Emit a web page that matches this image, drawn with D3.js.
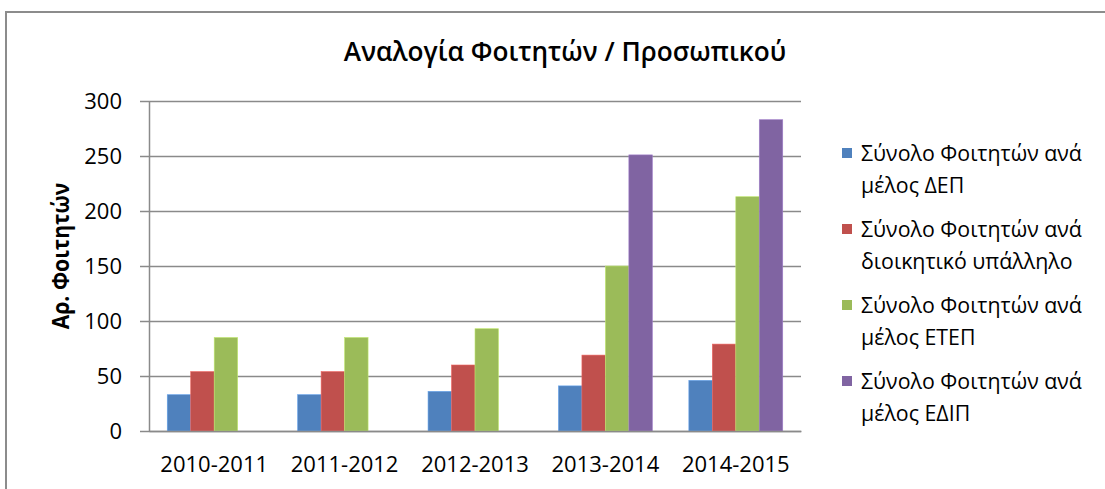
<!DOCTYPE html>
<html>
<head>
<meta charset="utf-8">
<script src="https://cdnjs.cloudflare.com/ajax/libs/d3/7.8.5/d3.min.js"></script>
<style>
  body { margin: 0; background: #fff; }
  text { font-family: "Open Sans", "Noto Sans", sans-serif; fill: #000; }
</style>
</head>
<body>
<div id="chart"></div>
<script>
const width = 1105
const height = 489
const margin = {top: 101, bottom: 58, left: 149, right: 304}

// datos
const years = ["2010-2011", "2011-2012", "2012-2013", "2013-2014", "2014-2015"]
const seriesNames = [
    ["Σύνολο Φοιτητών ανά", "μέλος ΔΕΠ"],
    ["Σύνολο Φοιτητών ανά", "διοικητικό υπάλληλο"],
    ["Σύνολο Φοιτητών ανά", "μέλος ΕΤΕΠ"],
    ["Σύνολο Φοιτητών ανά", "μέλος ΕΔΙΠ"]
]
const dep = [33, 33, 36, 41, 46]
const dioikitikoi = [54, 54, 60, 69, 79]
const etep = [85, 85, 93, 150, 213]
const edip = [null, null, null, 251, 283]
const yTicks = [0, 50, 100, 150, 200, 250, 300]
const colors = ["#4F81BD", "#C0504D", "#9BBB59", "#8064A2"]

const allSeries = [dep, dioikitikoi, etep, edip]

const svg = d3.select("#chart").append("svg").attr("width", width).attr("height", height)

// estrecha el texto horizontalmente (la fuente original es mas condensada)
function squeeze(sel, factor) {
    sel.each(function() {
        const w = this.getComputedTextLength()
        d3.select(this).attr("textLength", w * factor).attr("lengthAdjust", "spacingAndGlyphs")
    })
}

// marco del grafico
svg.append("rect")
    .attr("x", 6).attr("y", 12)
    .attr("width", width).attr("height", height)
    .attr("fill", "none").attr("stroke", "#8c8c8c").attr("stroke-width", 2)

const plotW = width - margin.left - margin.right
const plotH = height - margin.top - margin.bottom

const x = d3.scaleBand().domain(years).range([0, plotW]).paddingInner(0.28).paddingOuter(0.14)
const x1 = d3.scaleBand().domain(d3.range(allSeries.length)).range([0, x.bandwidth()])
const y = d3.scaleLinear().domain([0, 300]).range([plotH, 0])

const elementGroup = svg.append("g").attr("transform", `translate(${margin.left}, ${margin.top})`)

// lineas de cuadricula
elementGroup.append("g")
    .call(d3.axisLeft(y).tickValues(yTicks).tickSize(-plotW).tickFormat(""))
    .call(g => g.select(".domain").remove())
    .call(g => g.selectAll("line").attr("stroke", "#8a8a8a").attr("stroke-width", 1.5))

// barras
const rows = years.map((yr, i) => allSeries.map((s, j) => ({year: yr, serie: j, value: s[i]})))
elementGroup.selectAll("g.year")
    .data(rows)
    .join("g")
    .attr("class", "year")
    .attr("transform", d => `translate(${x(d[0].year)}, 0)`)
    .selectAll("rect")
    .data(d => d.filter(e => e.value !== null))
    .join("rect")
    .attr("x", d => x1(d.serie))
    .attr("y", d => y(d.value))
    .attr("width", x1.bandwidth())
    .attr("height", d => plotH - y(d.value))
    .attr("fill", d => colors[d.serie])
    .attr("stroke", d => d3.color(colors[d.serie]).brighter(0.6))
    .attr("stroke-width", 0.6)

// eje y
const yAxisGroup = elementGroup.append("g")
    .call(d3.axisLeft(y).tickValues(yTicks).tickSizeInner(9).tickSizeOuter(0).tickPadding(18))
yAxisGroup.select(".domain").attr("stroke", "#8a8a8a").attr("stroke-width", 1.5)
yAxisGroup.selectAll("line").attr("stroke", "#8a8a8a").attr("stroke-width", 1.5)
yAxisGroup.selectAll("text").style("font-family", "Open Sans").attr("font-size", 22).attr("fill", "#000")

// eje x
const xAxisGroup = elementGroup.append("g").attr("transform", `translate(0, ${plotH})`)
    .call(d3.axisBottom(x).tickSize(0).tickPadding(25))
xAxisGroup.select(".domain").attr("stroke", "#8a8a8a").attr("stroke-width", 1.5)
xAxisGroup.selectAll("text").style("font-family", "Open Sans").attr("font-size", 22).attr("fill", "#000")

// titulo
svg.append("text")
    .attr("x", 565).attr("y", 52)
    .attr("text-anchor", "middle").attr("dy", "0.35em")
    .attr("font-size", 27).attr("font-weight", 600)
    .text("Αναλογία Φοιτητών / Προσωπικού")
    .call(squeeze, 0.97)

// titulo eje y
svg.append("text")
    .attr("transform", "translate(61, 256) rotate(-90)")
    .attr("text-anchor", "middle").attr("dy", "0.35em")
    .attr("font-size", 23).attr("font-weight", "bold")
    .text("Αρ. Φοιτητών")
    .call(squeeze, 0.92)

// leyenda
const legend = svg.append("g").attr("transform", "translate(842, 153)")
const items = legend.selectAll("g")
    .data(seriesNames)
    .join("g")
    .attr("transform", (d, i) => `translate(0, ${i * 76})`)
items.append("rect")
    .attr("x", 0).attr("y", -5).attr("width", 10).attr("height", 10)
    .attr("fill", (d, i) => colors[i])
items.selectAll("text")
    .data(d => d)
    .join("text")
    .attr("x", 19)
    .attr("y", (d, i) => i * 32)
    .attr("dy", "0.35em")
    .attr("font-size", 22)
    .text(d => d)
    .call(squeeze, 0.97)
</script>
</body>
</html>
